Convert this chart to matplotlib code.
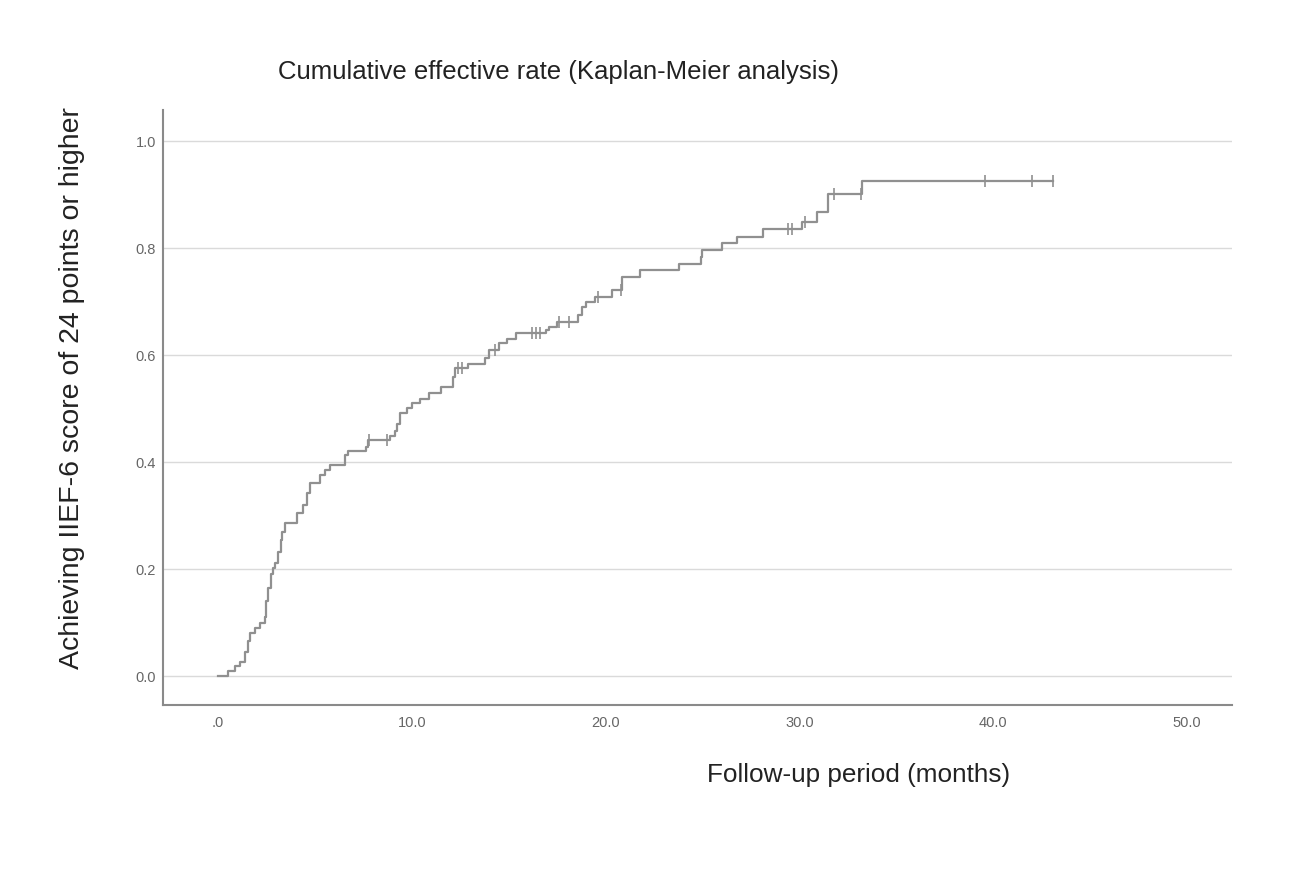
import matplotlib.pyplot as plt
import numpy as np

plt.rcParams['font.family'] = ['Liberation Sans', 'DejaVu Sans']

# Kaplan-Meier step data: event times (months) and cumulative rate after each step
event_times = [0.0, 0.52, 0.88, 1.13, 1.40, 1.55, 1.65, 1.90, 2.16, 2.40, 2.50, 2.60,
               2.75, 2.85, 2.95, 3.10, 3.25, 3.30, 3.45, 4.10, 4.38, 4.59, 4.74, 5.26,
               5.52, 5.77, 6.55, 6.70, 7.63, 7.75, 8.87, 9.12, 9.23, 9.38, 9.74, 10.0,
               10.4, 10.9, 11.5, 12.1, 12.25, 12.9, 13.8, 14.0, 14.5, 14.9, 15.4, 16.9,
               17.1, 17.5, 18.6, 18.8, 19.0, 19.45, 20.35, 20.85, 21.75, 23.8, 24.9, 25.0,
               26.0, 26.8, 28.1, 30.15, 30.9, 31.5, 33.25]
cum_rate = [0.0, 0.010, 0.019, 0.027, 0.045, 0.065, 0.080, 0.090, 0.100, 0.110, 0.140, 0.165,
            0.190, 0.202, 0.212, 0.232, 0.255, 0.270, 0.287, 0.305, 0.320, 0.342, 0.361, 0.376,
            0.385, 0.394, 0.413, 0.421, 0.428, 0.441, 0.449, 0.458, 0.471, 0.492, 0.501, 0.510,
            0.518, 0.530, 0.541, 0.559, 0.575, 0.584, 0.595, 0.609, 0.622, 0.631, 0.642, 0.647,
            0.653, 0.662, 0.675, 0.690, 0.700, 0.709, 0.721, 0.746, 0.759, 0.771, 0.784, 0.796,
            0.809, 0.821, 0.835, 0.849, 0.868, 0.901, 0.925]

# censored observations (months)
censor_times = [7.8, 8.7, 12.4, 12.6, 14.3, 16.2, 16.4, 16.6, 17.6, 18.1, 19.6, 20.8,
                29.4, 29.6, 30.3, 31.8, 33.2, 39.6, 42.0, 43.1]

x_ticks = [0, 10, 20, 30, 40, 50]
x_labels = ['.0', '10.0', '20.0', '30.0', '40.0', '50.0']
y_ticks = [0.0, 0.2, 0.4, 0.6, 0.8, 1.0]

fig = plt.figure(figsize=(12.95, 8.71), dpi=100)
ax = fig.add_axes([0.126, 0.1906, 0.825, 0.683])

line_col = '#909090'
t = np.array(event_times + [max(censor_times)])
v = np.array(cum_rate + [cum_rate[-1]])
ax.step(t, v, where='post', color=line_col, linewidth=1.6, zorder=3)

# censor marks sit on the curve
ct = np.array(censor_times)
idx = np.searchsorted(np.array(event_times), ct, side='right') - 1
cv = np.array(cum_rate)[idx]
ax.plot(ct, cv, linestyle='none', marker='|', markersize=9, markeredgewidth=1.2,
        color=line_col, zorder=4)

ax.set_xlim(-2.83, 52.3)
ax.set_ylim(-0.054, 1.058)
ax.set_xticks(x_ticks)
ax.set_xticklabels(x_labels)
ax.set_yticks(y_ticks)
ax.set_yticklabels([f'{y:.1f}' for y in y_ticks])
ax.tick_params(axis='both', length=0, labelsize=10.5, colors='#666666')
ax.tick_params(axis='x', pad=8)
ax.tick_params(axis='y', pad=5)

ax.grid(axis='y', color='#dadada', linewidth=1.0)
ax.set_axisbelow(True)
for s in ['top', 'right']:
    ax.spines[s].set_visible(False)
for s in ['left', 'bottom']:
    ax.spines[s].set_color('#8a8a8a')
    ax.spines[s].set_linewidth(1.5)

fig.text(278 / 1295, 1 - 72 / 871, 'Cumulative effective rate (Kaplan-Meier analysis)',
         fontsize=18.5, ha='left', va='center', color='#222222')
fig.text(859 / 1295, 1 - 775 / 871, 'Follow-up period (months)',
         fontsize=18.8, ha='center', va='center', color='#222222')
fig.text(72 / 1295, 1 - 388 / 871, 'Achieving IIEF-6 score of 24 points or higher',
         fontsize=20.5, ha='center', va='center', rotation=90, color='#222222')

plt.savefig('out.png', dpi=100)
